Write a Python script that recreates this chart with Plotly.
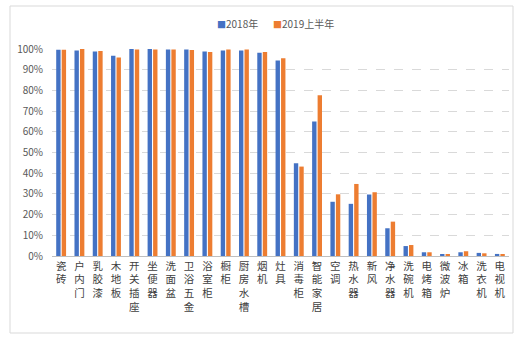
import plotly.graph_objects as go

categories = ["瓷砖", "户内门", "乳胶漆", "木地板", "开关插座", "坐便器", "洗面盆", "卫浴五金",
              "浴室柜", "橱柜", "厨房水槽", "烟机", "灶具", "消毒柜", "智能家居", "空调",
              "热水器", "新风", "净水器", "洗碗机", "电烤箱", "微波炉", "冰箱", "洗衣机", "电视机"]
series_names = ["2018年", "2019上半年"]
values_2018 = [0.996, 0.993, 0.988, 0.967, 1.000, 1.000, 0.997, 0.997, 0.988, 0.993, 0.993, 0.982,
               0.945, 0.448, 0.650, 0.262, 0.252, 0.297, 0.134, 0.048, 0.018, 0.008, 0.018, 0.015, 0.010]
values_2019h1 = [0.996, 1.000, 0.990, 0.959, 0.997, 0.997, 0.997, 0.995, 0.985, 0.997, 0.997, 0.985,
                 0.955, 0.432, 0.776, 0.298, 0.348, 0.308, 0.166, 0.053, 0.018, 0.005, 0.023, 0.013, 0.006]
y_ticks = [0, 0.1, 0.2, 0.3, 0.4, 0.5, 0.6, 0.7, 0.8, 0.9, 1.0]
y_tick_labels = ["0%", "10%", "20%", "30%", "40%", "50%", "60%", "70%", "80%", "90%", "100%"]

colors = ["#4472C4", "#ED7D31"]
vlabels = ["<br>".join(list(c)) for c in categories]

fig = go.Figure()
for name, vals, col in zip(series_names, [values_2018, values_2019h1], colors):
    fig.add_trace(go.Bar(x=vlabels, y=vals, name=name, showlegend=False,
                         marker=dict(color=col, line=dict(width=0))))

W, H = 520, 339
ml, mr, mt, mb = 52, 11, 49, 83
pw, ph = W - ml - mr, H - mt - mb

def px_x(x):
    return (x - ml) / pw

def px_y(y):
    return (H - mb - y) / ph

fig.add_shape(type="rect", xref="paper", yref="paper",
              x0=px_x(10), x1=px_x(513), y0=px_y(333), y1=px_y(6),
              line=dict(color="#D9D9D9", width=1), fillcolor="rgba(0,0,0,0)", layer="below")

# legend drawn as text entries
legend_x = [215, 271]
for name, col, lx in zip(series_names, colors, legend_x):
    fig.add_annotation(xref="paper", yref="paper", x=px_x(lx), y=px_y(24),
                       xanchor="left", yanchor="middle", showarrow=False,
                       text=f"<span style='color:{col};font-size:9px'>■</span>{name}",
                       font=dict(size=10, color="#595959"))

fig.update_layout(
    width=W, height=H,
    margin=dict(l=ml, r=mr, t=mt, b=mb, pad=0),
    paper_bgcolor="white", plot_bgcolor="white",
    barmode="group", bargap=0.4, bargroupgap=0.2,
    font=dict(family="Noto Sans CJK SC, Noto Sans, sans-serif", size=10, color="#595959"),
    showlegend=False,
)
fig.update_xaxes(showgrid=False, showline=True, linecolor="#BFBFBF", linewidth=1,
                 tickangle=0, ticks="", tickfont=dict(size=10.5, color="#404040"))
fig.update_yaxes(range=[0, 1.0], tickvals=y_ticks, ticktext=y_tick_labels,
                 showgrid=True, gridcolor="#D9D9D9", griddash="dash", gridwidth=1,
                 zeroline=False, showline=False, ticks="", ticklabelstandoff=8,
                 tickfont=dict(size=10, color="#595959"))

fig.write_html("out.html")
